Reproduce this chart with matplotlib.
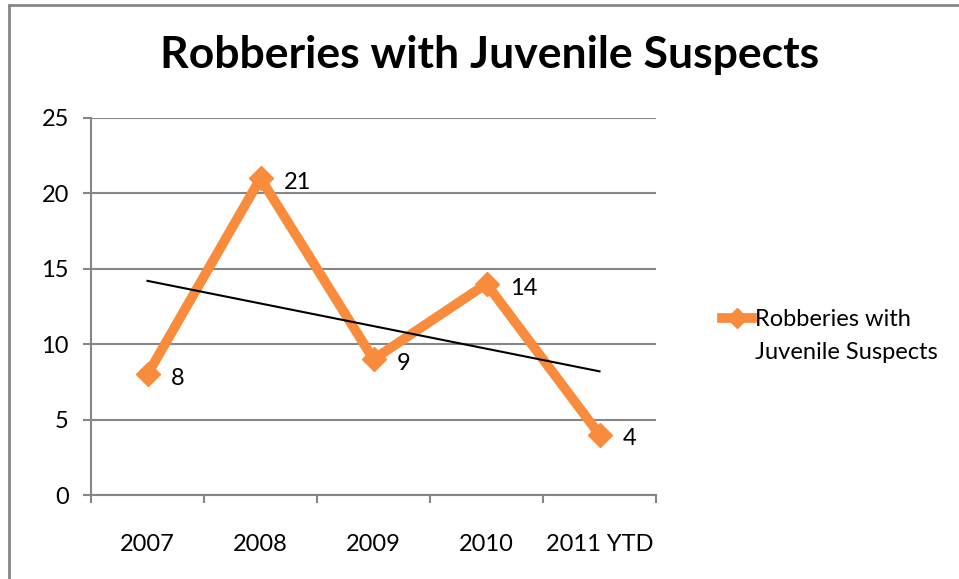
import matplotlib
matplotlib.use("Agg")
import matplotlib.pyplot as plt
import numpy as np
from matplotlib.lines import Line2D
from matplotlib.patches import Rectangle

categories = ["2007", "2008", "2009", "2010", "2011 YTD"]
values = [8, 21, 9, 14, 4]
title = "Robberies with Juvenile Suspects"
series_name = "Robberies with\nJuvenile Suspects"
yticks = [0, 5, 10, 15, 20, 25]

plt.rcParams['font.family'] = ['Lato', 'DejaVu Sans']
orange = "#F98B3C"
gray = "#868686"

fig = plt.figure(figsize=(9.59, 5.79), dpi=100)
fig.patches.append(Rectangle((9/959, -0.01), 1.0, 1 - 5/579 + 0.01, transform=fig.transFigure,
                             fill=False, edgecolor=gray, linewidth=2))
ax = fig.add_axes([91/959, 1 - 495/579, (656 - 91)/959, (495 - 118)/579])

x = np.arange(len(categories))
ax.set_xlim(-0.5, len(categories) - 0.5)
ax.set_ylim(0, 25)
ax.set_yticks(yticks)
ax.yaxis.grid(True, color=gray, linewidth=1.5)
ax.set_axisbelow(True)
for s in ["top", "right"]:
    ax.spines[s].set_visible(False)
for s in ["left", "bottom"]:
    ax.spines[s].set_color(gray)
    ax.spines[s].set_linewidth(1.5)

ax.plot(x, values, color=orange, linewidth=7, marker="D", markersize=12, solid_joinstyle="miter", zorder=3)

# linear trendline
coef = np.polyfit(x, values, 1)
ax.plot(x, np.polyval(coef, x), color="black", linewidth=1.5, zorder=4)

for xi, v in zip(x, values):
    ax.annotate(str(v), (xi, v), xytext=(17, -3), textcoords="offset points",
                va="center", ha="left", fontsize=17, color="black")

ax.set_xticks(x)
ax.set_xticklabels(categories, fontsize=17)
ax.tick_params(axis="x", length=0, pad=28)
ax.set_xticks(np.arange(-0.5, len(categories)), minor=True)
ax.tick_params(axis="x", which="minor", length=6, width=1.5, color=gray, direction="out")
ax.tick_params(axis="y", length=6, width=1.5, color=gray, labelsize=17, pad=10)

fig.text(490/959, 1 - 55/579, title, ha="center", va="center", fontsize=32, fontweight="bold")

# legend
fig.add_artist(Line2D([722/959, 752/959], [1 - 318/579, 1 - 318/579], color=orange, linewidth=7,
                      transform=fig.transFigure))
fig.add_artist(Line2D([737/959], [1 - 318/579], color=orange, marker="D", markersize=10,
                      transform=fig.transFigure))
fig.text(755/959, 1 - 336/579, series_name, ha="left", va="center", fontsize=17, linespacing=1.75)

fig.savefig("out.png", dpi=100)
